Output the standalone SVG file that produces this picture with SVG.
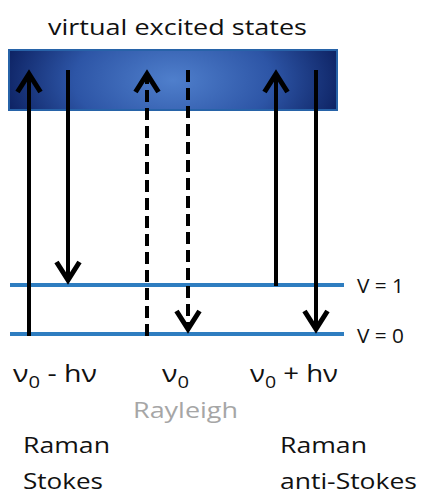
<svg xmlns="http://www.w3.org/2000/svg" width="423" height="494" viewBox="0 0 423 494">
<defs>
<radialGradient id="g" cx="0.5" cy="0.5" r="0.55" gradientTransform="translate(0.5 0.5) scale(1 3) translate(-0.5 -0.5)">
<stop offset="0" stop-color="#4f7fcc"/>
<stop offset="0.55" stop-color="#2d55a6"/>
<stop offset="1" stop-color="#0a1d5c"/>
</radialGradient>
<marker id="ah" markerUnits="userSpaceOnUse" markerWidth="40" markerHeight="40" refX="0" refY="0" orient="auto" viewBox="-20 -20 40 40" overflow="visible">
<path d="M-18 -11.5 L0 0 L-18 11.5" fill="none" stroke="#000" stroke-width="5"/>
</marker>
<style>
text{font-family:"Open Sans","Liberation Sans",sans-serif;fill:#111}
.lvl{stroke:#2e7dc0;stroke-width:4}
.ar{stroke:#000;stroke-width:4;fill:none}
.ds{stroke-dasharray:12 6}
</style>
</defs>
<g id="header"><text x="48" y="35" font-size="22" textLength="259" lengthAdjust="spacingAndGlyphs">virtual excited states</text></g>
<g id="virtual-box"><rect x="9" y="50" width="328" height="60" fill="url(#g)" stroke="#2763a8" stroke-width="2"/></g>
<g id="levels">
<line class="lvl" x1="10" y1="285" x2="344" y2="285"/>
<line class="lvl" x1="10" y1="334" x2="344" y2="334"/>
<text x="357" y="293" font-size="20" textLength="47" lengthAdjust="spacingAndGlyphs">V = 1</text>
<text x="357" y="343" font-size="20" textLength="47" lengthAdjust="spacingAndGlyphs">V = 0</text>
</g>
<g id="connectors">
<line class="ar" x1="29" y1="336" x2="29" y2="74" marker-end="url(#ah)"/>
<line class="ar" x1="68" y1="70" x2="68" y2="280" marker-end="url(#ah)"/>
<line class="ar ds" x1="147" y1="336" x2="147" y2="74" marker-end="url(#ah)"/>
<line class="ar ds" x1="188" y1="70" x2="188" y2="329" marker-end="url(#ah)"/>
<line class="ar" x1="276" y1="286" x2="276" y2="74" marker-end="url(#ah)"/>
<line class="ar" x1="316" y1="70" x2="316" y2="329" marker-end="url(#ah)"/>
</g>
<g id="labels" font-size="24">
<text x="13" y="382" textLength="84" lengthAdjust="spacingAndGlyphs">ν<tspan font-size="17" dy="6">0</tspan><tspan dy="-6"> - hν</tspan></text>
<text x="162" y="382" textLength="27" lengthAdjust="spacingAndGlyphs">ν<tspan font-size="17" dy="6">0</tspan></text>
<text x="250" y="382" textLength="88" lengthAdjust="spacingAndGlyphs">ν<tspan font-size="17" dy="6">0</tspan><tspan dy="-6"> + hν</tspan></text>
<text x="133" y="418" font-size="21" textLength="105" lengthAdjust="spacingAndGlyphs" style="fill:#a6a6a6">Rayleigh</text>
<text x="23" y="453" font-size="21" textLength="87" lengthAdjust="spacingAndGlyphs">Raman</text>
<text x="23" y="489" font-size="21" textLength="80" lengthAdjust="spacingAndGlyphs">Stokes</text>
<text x="280" y="453" font-size="21" textLength="87" lengthAdjust="spacingAndGlyphs">Raman</text>
<text x="280" y="489" font-size="21" textLength="137" lengthAdjust="spacingAndGlyphs">anti-Stokes</text>
</g>
</svg>
